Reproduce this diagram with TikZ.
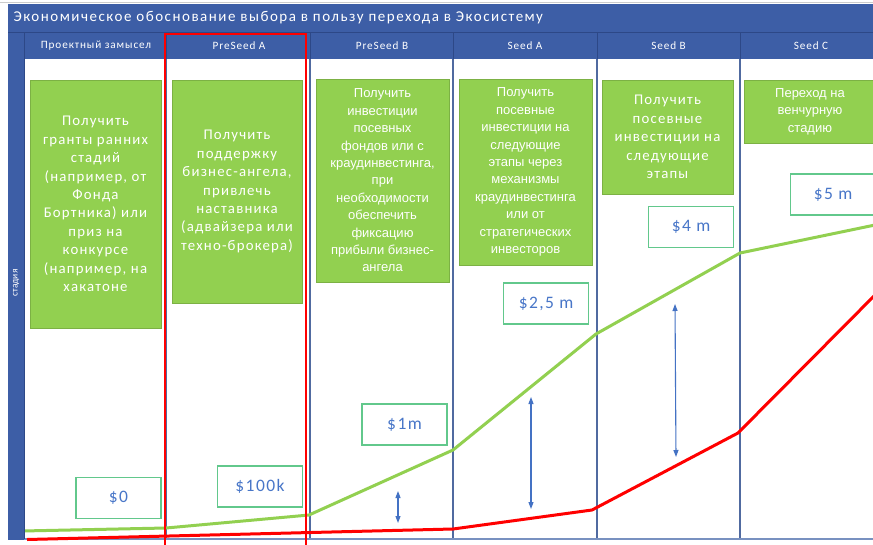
\documentclass[tikz,border=0pt]{standalone}
\usepackage{fontspec}
\setmainfont{Carlito}
\newfontfamily\calsp[LetterSpace=8]{Carlito}
\newfontfamily\calti[LetterSpace=10]{Carlito}
\newfontfamily\arialf{Liberation Sans}
\usetikzlibrary{arrows.meta}
\definecolor{hdrblue}{RGB}{61,94,166}
\definecolor{hdrline}{RGB}{45,72,135}
\definecolor{colline}{RGB}{80,106,160}
\definecolor{axisline}{RGB}{120,145,192}
\definecolor{boxgreen}{RGB}{146,208,80}
\definecolor{valborder}{RGB}{98,200,140}
\definecolor{valtext}{RGB}{72,118,200}
\definecolor{arrblue}{RGB}{68,114,196}
\definecolor{curvegreen}{RGB}{146,208,80}
\tikzset{
  gbox/.style={fill=boxgreen, draw=boxgreen!85!black, line width=0.4pt, text=white, align=center, inner sep=0pt},
  gsp/.style={font=\calsp\fontsize{14.8}{18.4}\selectfont},
  gar/.style={font=\arialf\fontsize{13}{17.4}\selectfont},
  vbox/.style={draw=valborder, fill=white, line width=1.4pt, text=valtext, minimum width=85pt, minimum height=41pt, inner sep=0pt, font=\calsp\fontsize{17.5}{19}\selectfont},
  hdrtxt/.style={text=white, font=\calsp\fontsize{11.2}{13}\selectfont},
  colsep/.style={draw=colline, line width=1.5pt},
  dblarrow/.style={draw=arrblue, line width=1.1pt, {Triangle[length=7pt,width=5pt]}-{Triangle[length=7pt,width=5pt]}},
}
\begin{document}
\begin{tikzpicture}[x=1pt,y=-1pt]
\useasboundingbox (0,0) rectangle (873,544);
\clip (0,0) rectangle (873,544);
\fill[white] (0,0) rectangle (873,544);
\draw[gray!40, line width=0.8pt] (0,2.5) -- (873,2.5);
% column lines
\foreach \x in {166,310,453,597,740}{\draw[colsep] (\x,59) -- (\x,539);}
\draw[draw=axisline, line width=2.5pt] (24,539) -- (880,539);
% green boxes
\node[gbox, gsp, minimum width=131pt, minimum height=248pt] (b1) at (95.5,204) {Получить\\гранты ранних\\стадий\\(например, от\\Фонда\\Бортника) или\\приз на\\конкурсе\\(например, на\\хакатоне};
\node[gbox, gsp, minimum width=130pt, minimum height=223pt] (b2) at (237,191.5) {Получить\\поддержку\\бизнес-ангела,\\привлечь\\наставника\\(адвайзера или\\техно-брокера)};
\node[gbox, gar, minimum width=133pt, minimum height=203pt] (b3) at (382.5,180.5) {Получить\\инвестиции\\посевных\\фондов или с\\краудинвестинга,\\при\\необходимости\\обеспечить\\фиксацию\\прибыли бизнес-\\ангела};
\node[gbox, gar, minimum width=133pt, minimum height=186pt] (b4) at (525.5,172) {Получить\\посевные\\инвестиции на\\следующие\\этапы через\\механизмы\\краудинвестинга\\или от\\стратегических\\инвесторов};
\node[gbox, gsp, minimum width=131pt, minimum height=114pt] (b5) at (667.5,137) {Получить\\посевные\\инвестиции на\\следующие\\этапы};
\node[gbox, gar, minimum width=132pt, minimum height=63pt] (b6) at (810,111.5) {Переход на\\венчурную\\стадию};
% value boxes
\node[vbox] (v1) at (118.5,498) {\$0};
\node[vbox] (v2) at (260,486.5) {\$100k};
\node[vbox] (v3) at (404.5,424.5) {\$1m};
\node[vbox] (v4) at (546,303.5) {\$2,5 m};
\node[vbox] (v5) at (691,227) {\$4 m};
\node[vbox] (v6) at (833,194.5) {\$5 m};
% curves
\coordinate (g0) at (22,531);
\coordinate (g1) at (166,528);
\coordinate (g2) at (309,515);
\coordinate (g3) at (453,450);
\coordinate (g4) at (596,334);
\coordinate (g5) at (740,253);
\coordinate (g6) at (875,225);
\draw[curvegreen, line width=3pt, line join=round] (g0) -- (g1) -- (g2) -- (g3) -- (g4) -- (g5) -- (g6);
\coordinate (r0) at (27,539.5);
\coordinate (r1) at (453,529);
\coordinate (r2) at (592,510);
\coordinate (r3) at (738,433);
\coordinate (r4) at (875,295);
\draw[red, line width=3pt, line join=round] (r0) -- (r1) -- (r2) -- (r3) -- (r4);
% arrows
\coordinate (a1t) at (398,491);
\coordinate (a1b) at (398,523);
\coordinate (a2t) at (531,397);
\coordinate (a2b) at (531,509);
\coordinate (a3t) at (675,304);
\coordinate (a3b) at (676,457);
\draw[dblarrow] (a1t) -- (a1b);
\draw[dblarrow] (a2t) -- (a2b);
\draw[dblarrow] (a3t) -- (a3b);
% header
\fill[hdrblue] (8,4) rectangle (880,59);
\fill[hdrblue] (8,4) rectangle (24,539.5);
\draw[hdrline, line width=1pt] (8,32) -- (880,32);
\foreach \x in {24,166,310,453,597,740}{\draw[hdrline, line width=1pt] (\x,32) -- (\x,59);}
\draw[hdrline, line width=0.8pt] (24,59) -- (24,539);
\node[text=white, anchor=west, font=\calti\fontsize{15}{17}\selectfont] (title) at (10,18) {Экономическое обоснование выбора в пользу перехода в Экосистему};
\node[hdrtxt] (h1) at (96,46) {Проектный замысел};
\node[hdrtxt] (h2) at (239,46) {PreSeed A};
\node[hdrtxt] (h3) at (382,46) {PreSeed B};
\node[hdrtxt] (h4) at (525,46) {Seed A};
\node[hdrtxt] (h5) at (668.5,46) {Seed B};
\node[hdrtxt] (h6) at (811,46) {Seed C};
\node[text=white, rotate=90, font=\fontsize{9.5}{11}\selectfont] (st) at (16,283) {стадия};
% red frame
\draw[red, line width=2pt] (165,34) rectangle (306,560);
\end{tikzpicture}
\end{document}
